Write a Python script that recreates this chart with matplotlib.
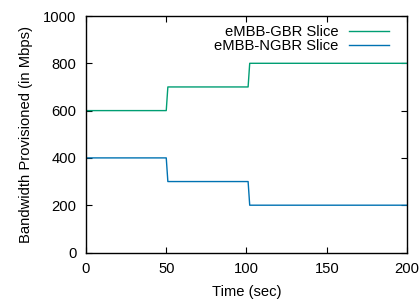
import matplotlib
matplotlib.use("Agg")
import matplotlib.pyplot as plt

# step profiles
time_s = [0, 50, 51, 101, 102, 200]
gbr_mbps = [600, 600, 700, 700, 800, 800]
ngbr_mbps = [400, 400, 300, 300, 200, 200]

plt.rcParams.update({
    "font.family": "Liberation Sans",
    "font.size": 10.6,
})

fig = plt.figure(figsize=(4.2, 2.99), dpi=100)
ax = fig.add_axes([86 / 420, 1 - 252.5 / 299, (407 - 86) / 420, (252.5 - 16) / 299])

ax.plot(time_s, gbr_mbps, color="#009E73", lw=1.0, label="eMBB-GBR Slice")
ax.plot(time_s, ngbr_mbps, color="#0072B2", lw=1.0, label="eMBB-NGBR Slice")

ax.set_xlim(0, 200)
ax.set_ylim(0, 1000)
ax.set_xticks([0, 50, 100, 150, 200])
ax.set_yticks([0, 200, 400, 600, 800, 1000])
ax.tick_params(direction="in", top=True, right=True, length=4, width=0.8, pad=7)
for s in ax.spines.values():
    s.set_linewidth(1.0)

ax.set_xlabel("Time (sec)", labelpad=6)
ax.set_ylabel("Bandwidth Provisioned (in Mbps)", labelpad=7)

ax.legend(loc="upper right", frameon=False, markerfirst=False, handlelength=2.7,
          handletextpad=0.75, labelspacing=0.0, borderaxespad=0.0,
          bbox_to_anchor=(0.963, 0.985))

fig.savefig("out.png", dpi=100)
